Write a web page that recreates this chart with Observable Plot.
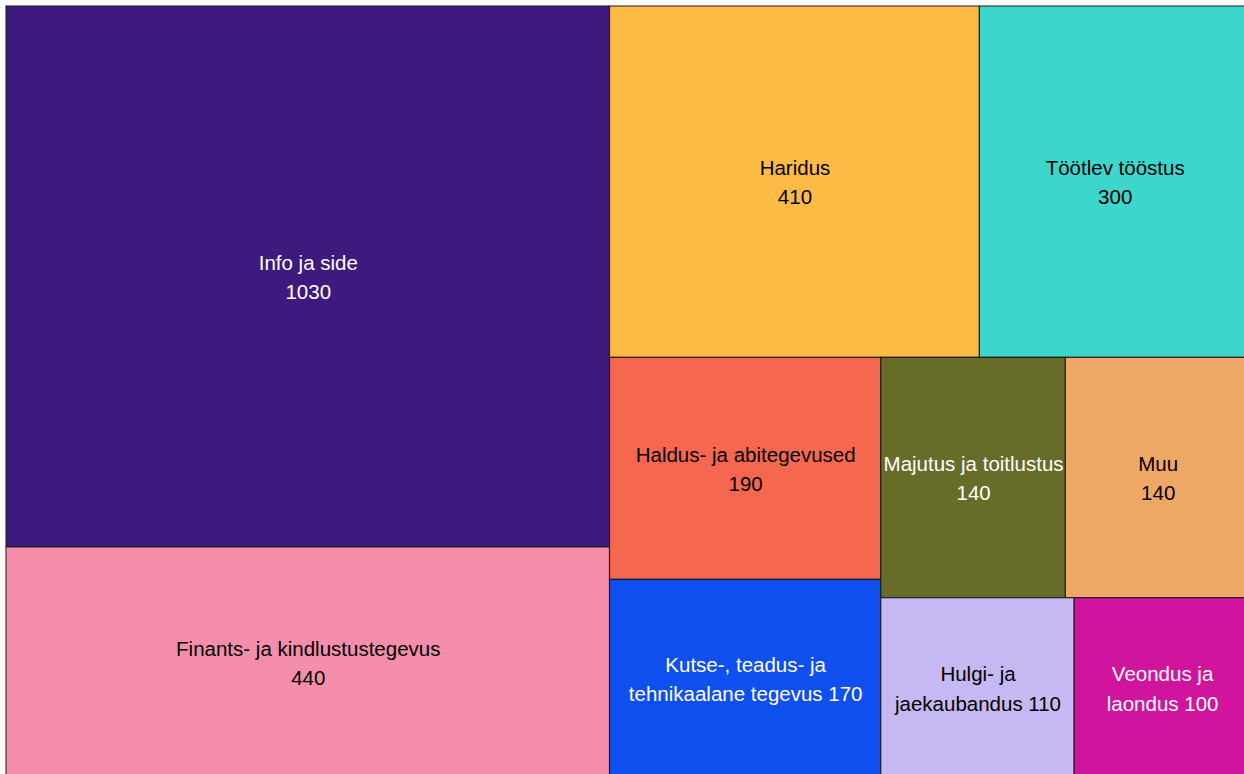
<!DOCTYPE html>
<html>
<head>
<meta charset="utf-8">
<script src="https://cdn.jsdelivr.net/npm/d3@7"></script>
<script src="https://cdn.jsdelivr.net/npm/@observablehq/plot@0.6"></script>
<style>
  html, body { margin: 0; padding: 0; background: #fff; overflow: hidden; }
  #chart svg { display: block; max-width: none !important; }
</style>
</head>
<body>
<div id="chart"></div>
<script>
// Data
const categories = [
  "Info ja side",
  "Finants- ja kindlustustegevus",
  "Haridus",
  "Töötlev tööstus",
  "Haldus- ja abitegevused",
  "Kutse-, teadus- ja tehnikaalane tegevus",
  "Majutus ja toitlustus",
  "Muu",
  "Hulgi- ja jaekaubandus",
  "Veondus ja laondus"
];
const values = [1030, 440, 410, 300, 190, 170, 140, 140, 110, 100];
const labels = [
  "Info ja side\n1030",
  "Finants- ja kindlustustegevus\n440",
  "Haridus\n410",
  "Töötlev tööstus\n300",
  "Haldus- ja abitegevused\n190",
  "Kutse-, teadus- ja\ntehnikaalane tegevus 170",
  "Majutus ja toitlustus\n140",
  "Muu\n140",
  "Hulgi- ja\njaekaubandus 110",
  "Veondus ja\nlaondus 100"
];
const colors = [
  "#3e1a7f", "#f58eaa", "#fdbb46", "#3dd6cc", "#f6674f",
  "#104fef", "#686c29", "#efa766", "#c6b8f2", "#d1149e"
];

// Layout
const W = 1244, H = 772;
const rows = categories.map((c, i) => ({name: c, value: values[i], label: labels[i], color: colors[i]}));
const root = d3.hierarchy({children: rows}).sum(d => d.value || 0)
  .sort((a, b) => b.value - a.value);
d3.treemap().size([W, H]).tile(d3.treemapSquarify)(root);
const cells = root.leaves().map(n => ({
  ...n.data, x0: n.x0, x1: n.x1, y0: n.y0, y1: n.y1,
  cx: (n.x0 + n.x1) / 2, cy: (n.y0 + n.y1) / 2,
  textColor: d3.lab(n.data.color).l < 55 ? "white" : "black"
}));

const chart = Plot.plot({
  width: W + 12,
  height: H + 12,
  margin: 0,
  x: {domain: [0, W], range: [6, W + 6], axis: null},
  y: {domain: [0, H], range: [6, H + 6], axis: null},
  style: {fontFamily: "'Liberation Sans', Arial, sans-serif", background: "white", maxWidth: "none"},
  marks: [
    Plot.rect(cells, {
      x1: "x0", x2: "x1", y1: "y0", y2: "y1",
      fill: d => d.color,
      stroke: "#111", strokeWidth: 1.2, strokeOpacity: 0.8
    }),
    Plot.text(cells, {
      x: "cx", y: "cy", text: "label",
      fill: d => d.textColor,
      fontSize: 20.5, lineHeight: 1.44, dy: -2,
      textAnchor: "middle", lineAnchor: "middle"
    })
  ]
});
document.getElementById("chart").appendChild(chart);
</script>
</body>
</html>
